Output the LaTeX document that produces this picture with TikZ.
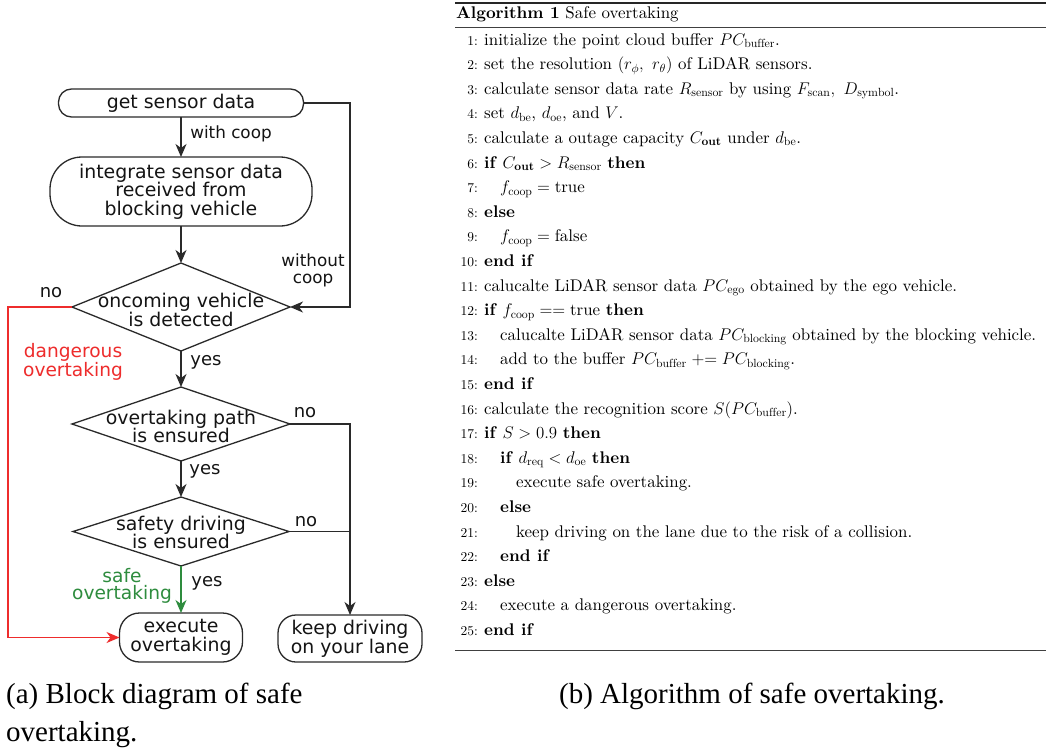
\RequirePackage{fix-cm}
\documentclass[tikz,border=0pt]{standalone}
\usepackage{fontspec}
\setmainfont{lmroman10-regular.otf}[BoldFont=lmroman10-bold.otf, ItalicFont=lmroman10-italic.otf]
\usetikzlibrary{shapes.geometric,arrows.meta,calc}
\newfontfamily\flowfont{DejaVu Sans}
\newfontfamily\capfont{Liberation Serif}
\definecolor{linegray}{HTML}{2A2A2A}
\definecolor{dangerred}{RGB}{238,44,44}
\definecolor{safegreen}{RGB}{46,140,62}

% one numbered line of the algorithm listing: number, indent level, text
\newcommand\algrow[3]{%
  \node[algnum] (num#1) at (478,{45+(#1-1)*24.6}) {#1:};
  \node[algtxt] (txt#1) at ({484+#2*16},{45+(#1-1)*24.6}) {#3};}

\tikzset{
  flowtext/.style={font=\flowfont\fontsize{18.9}{18.7}\selectfont, text=black!92, align=center, inner sep=0pt},
  termbox/.style={draw=linegray, line width=1.3pt, inner sep=0pt, outer sep=0pt, flowtext},
  decision/.style={diamond, draw=linegray, line width=1.3pt, inner sep=0pt, outer sep=0pt},
  flow/.style={draw=linegray, line width=1.3pt},
  arr/.style={flow, -{Stealth[length=13pt,width=11pt,inset=4pt]}},
  lblsmall/.style={font=\flowfont\fontsize{16.8}{17}\selectfont, text=black!92, align=center, inner sep=0pt},
  lbl/.style={font=\flowfont\fontsize{18}{18}\selectfont, text=black!92, inner sep=0pt},
  lblcol/.style={font=\flowfont\fontsize{18.6}{17.5}\selectfont, align=center, inner sep=0pt},
  algnum/.style={font=\fontsize{13.5}{14}\selectfont, anchor=base east, inner sep=0pt},
  algtxt/.style={font=\fontsize{16.9}{20}\selectfont, anchor=base west, inner sep=0pt},
  captext/.style={font=\capfont\fontsize{29}{34}\selectfont, inner sep=0pt},
}

\begin{document}
\begin{tikzpicture}[x=1pt, y=-1pt]
\useasboundingbox (0,0) rectangle (1046,750);
\fill[white] (0,0) rectangle (1046,750);

% ---------- flowchart ----------
\node[termbox, minimum width=245pt, minimum height=28pt, rounded corners=13pt] (get) at (181,103) {get sensor data};
\node[termbox, minimum width=262pt, minimum height=69pt, rounded corners=32pt] (integ) at (181,191.5) {integrate sensor data\\received from\\blocking vehicle};
\node[decision, minimum width=218pt, minimum height=88pt] (d1) at (181,307) {};
\node[flowtext] (d1t) at (181,310) {oncoming vehicle\\is detected};
\node[decision, minimum width=218pt, minimum height=74pt] (d2) at (181,424) {};
\node[flowtext] (d2t) at (181,426.5) {overtaking path\\is ensured};
\node[decision, minimum width=216pt, minimum height=69pt] (d3) at (181,531.5) {};
\node[flowtext] (d3t) at (181,532.5) {safety driving\\is ensured};
\node[termbox, minimum width=123pt, minimum height=49pt, rounded corners=20pt] (exec) at (181,637.5) {execute\\overtaking};
\node[termbox, minimum width=144pt, minimum height=47pt, rounded corners=18pt] (keep) at (350,638.5) {keep driving\\on your lane};

\coordinate (rx) at (350,0);
\coordinate (lx) at (8,0);

\draw[arr] (get.south) -- (integ.north);
\draw[arr] (integ.south) -- (d1.north);
\draw[arr] (get.east) -| (rx |- d1.east) -- (d1.east);
\draw[arr, draw=dangerred] (d1.west) -- (lx |- d1.west) |- (exec.west);
\draw[arr] (d1.south) -- (d2.north);
\draw[arr] (d2.south) -- (d3.north);
\draw[arr, draw=safegreen] (d3.south) -- (exec.north);
\draw[arr] (d2.east) -| (keep.north);
\draw[flow] (d3.east) -- (keep.north |- d3.east);

\node[lblsmall] (lwith) at (231,134) {with coop};
\node[lblsmall] (lwithout) at (313,270.5) {without\\coop};
\node[lbl] (lno1) at (51,293) {no};
\node[lbl] (lyes1) at (206,362) {yes};
\node[lbl] (lno2) at (305,413) {no};
\node[lbl] (lyes2) at (205,471) {yes};
\node[lbl] (lno3) at (306,522) {no};
\node[lbl] (lyes3) at (207,583) {yes};
\node[lblcol, text=dangerred] (ldanger) at (73,362) {dangerous\\overtaking};
\node[lblcol, text=safegreen] (lsafe) at (122,586) {safe\\overtaking};

% ---------- algorithm listing ----------
\draw[line width=1.4pt, black!85] (455,3) -- (1046,3);
\node[algtxt] (alghead) at (456,18) {\textbf{Algorithm 1} Safe overtaking};
\draw[line width=0.8pt, black!75] (455,27) -- (1046,27);

\algrow{1}{0}{initialize the point cloud buffer $PC_{\mathrm{buffer}}$.}
\algrow{2}{0}{set the resolution $(r_\phi,\ r_\theta)$ of LiDAR sensors.}
\algrow{3}{0}{calculate sensor data rate $R_{\mathrm{sensor}}$ by using $F_{\mathrm{scan}},\ D_{\mathrm{symbol}}$.}
\algrow{4}{0}{set $d_{\mathrm{be}}$, $d_{\mathrm{oe}}$, and $V$.}
\algrow{5}{0}{calculate a outage capacity $C_{\mathbf{out}}$ under $d_{\mathrm{be}}$.}
\algrow{6}{0}{\textbf{if} $C_{\mathbf{out}} > R_{\mathrm{sensor}}$ \textbf{then}}
\algrow{7}{1}{$f_{\mathrm{coop}} = \mathrm{true}$}
\algrow{8}{0}{\textbf{else}}
\algrow{9}{1}{$f_{\mathrm{coop}} = \mathrm{false}$}
\algrow{10}{0}{\textbf{end if}}
\algrow{11}{0}{calucalte LiDAR sensor data $PC_{\mathrm{ego}}$ obtained by the ego vehicle.}
\algrow{12}{0}{\textbf{if} $f_{\mathrm{coop}} == \mathrm{true}$ \textbf{then}}
\algrow{13}{1}{calucalte LiDAR sensor data $PC_{\mathrm{blocking}}$ obtained by the blocking vehicle.}
\algrow{14}{1}{add to the buffer $PC_{\mathrm{buffer}} \mathrel{+}= PC_{\mathrm{blocking}}$.}
\algrow{15}{0}{\textbf{end if}}
\algrow{16}{0}{calculate the recognition score $S(PC_{\mathrm{buffer}})$.}
\algrow{17}{0}{\textbf{if} $S > 0.9$ \textbf{then}}
\algrow{18}{1}{\textbf{if} $d_{\mathrm{req}} < d_{\mathrm{oe}}$ \textbf{then}}
\algrow{19}{2}{execute safe overtaking.}
\algrow{20}{1}{\textbf{else}}
\algrow{21}{2}{keep driving on the lane due to the risk of a collision.}
\algrow{22}{1}{\textbf{end if}}
\algrow{23}{0}{\textbf{else}}
\algrow{24}{1}{execute a dangerous overtaking.}
\algrow{25}{0}{\textbf{end if}}

\draw[line width=0.8pt, black!75] (455,650) -- (1046,650);

% ---------- captions ----------
\node[captext, anchor=base west] (capa1) at (6,703) {(a) Block diagram of safe};
\node[captext, anchor=base west] (capa2) at (6,741) {overtaking.};
\node[captext, anchor=base] (capb) at (752,703) {(b) Algorithm of safe overtaking.};
\end{tikzpicture}
\end{document}
